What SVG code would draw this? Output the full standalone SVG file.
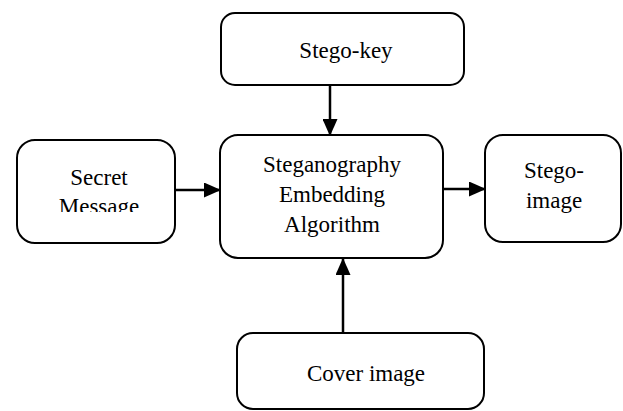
<svg xmlns="http://www.w3.org/2000/svg" width="623" height="411" viewBox="0 0 623 411">
  <style>
    .box { fill: #ffffff; stroke: #000000; stroke-width: 2; }
    .lbl { font-family: 'Liberation Serif', 'Times New Roman', serif; font-size: 23px; fill: #000000; text-anchor: middle; }
    .edge { stroke: #000000; stroke-width: 2.5; fill: none; marker-end: url(#arrow); }
  </style>
  <defs>
    <marker id="arrow" viewBox="0 0 17 15" refX="17" refY="7.5" markerWidth="17" markerHeight="15" markerUnits="userSpaceOnUse" orient="auto">
      <path d="M0,0 L17,7.5 L0,15 z" fill="#000000"/>
    </marker>
    <clipPath id="secret-clip">
      <rect x="17" y="140" width="158" height="72"/>
    </clipPath>
  </defs>
  <rect width="623" height="411" fill="#ffffff"/>

  <g id="stego-key">
    <rect class="box" x="221" y="13" width="243" height="72" rx="14"/>
    <text class="lbl" x="346" y="58">Stego-key</text>
  </g>

  <g id="embedding">
    <rect class="box" x="220" y="135" width="223" height="123" rx="18"/>
    <text class="lbl" x="332" y="172">Steganography</text>
    <text class="lbl" x="332" y="202">Embedding</text>
    <text class="lbl" x="332" y="232">Algorithm</text>
  </g>

  <g id="secret-message">
    <rect class="box" x="17" y="140" width="158" height="103" rx="18"/>
    <g clip-path="url(#secret-clip)">
      <text class="lbl" x="99" y="185">Secret</text>
      <text class="lbl" x="99" y="214">Message</text>
    </g>
  </g>

  <g id="stego-image">
    <rect class="box" x="485" y="135" width="136" height="107" rx="18"/>
    <text class="lbl" x="554" y="178">Stego-</text>
    <text class="lbl" x="554" y="208">image</text>
  </g>

  <g id="cover-image">
    <rect class="box" x="237" y="333" width="247" height="76" rx="16"/>
    <text class="lbl" x="366" y="381">Cover image</text>
  </g>

  <g id="connectors">
    <line class="edge" x1="330" y1="85" x2="330" y2="136"/>
    <line class="edge" x1="175" y1="190" x2="221" y2="190"/>
    <line class="edge" x1="443" y1="189" x2="486" y2="189"/>
    <line class="edge" x1="343" y1="333" x2="343" y2="258"/>
  </g>
</svg>
